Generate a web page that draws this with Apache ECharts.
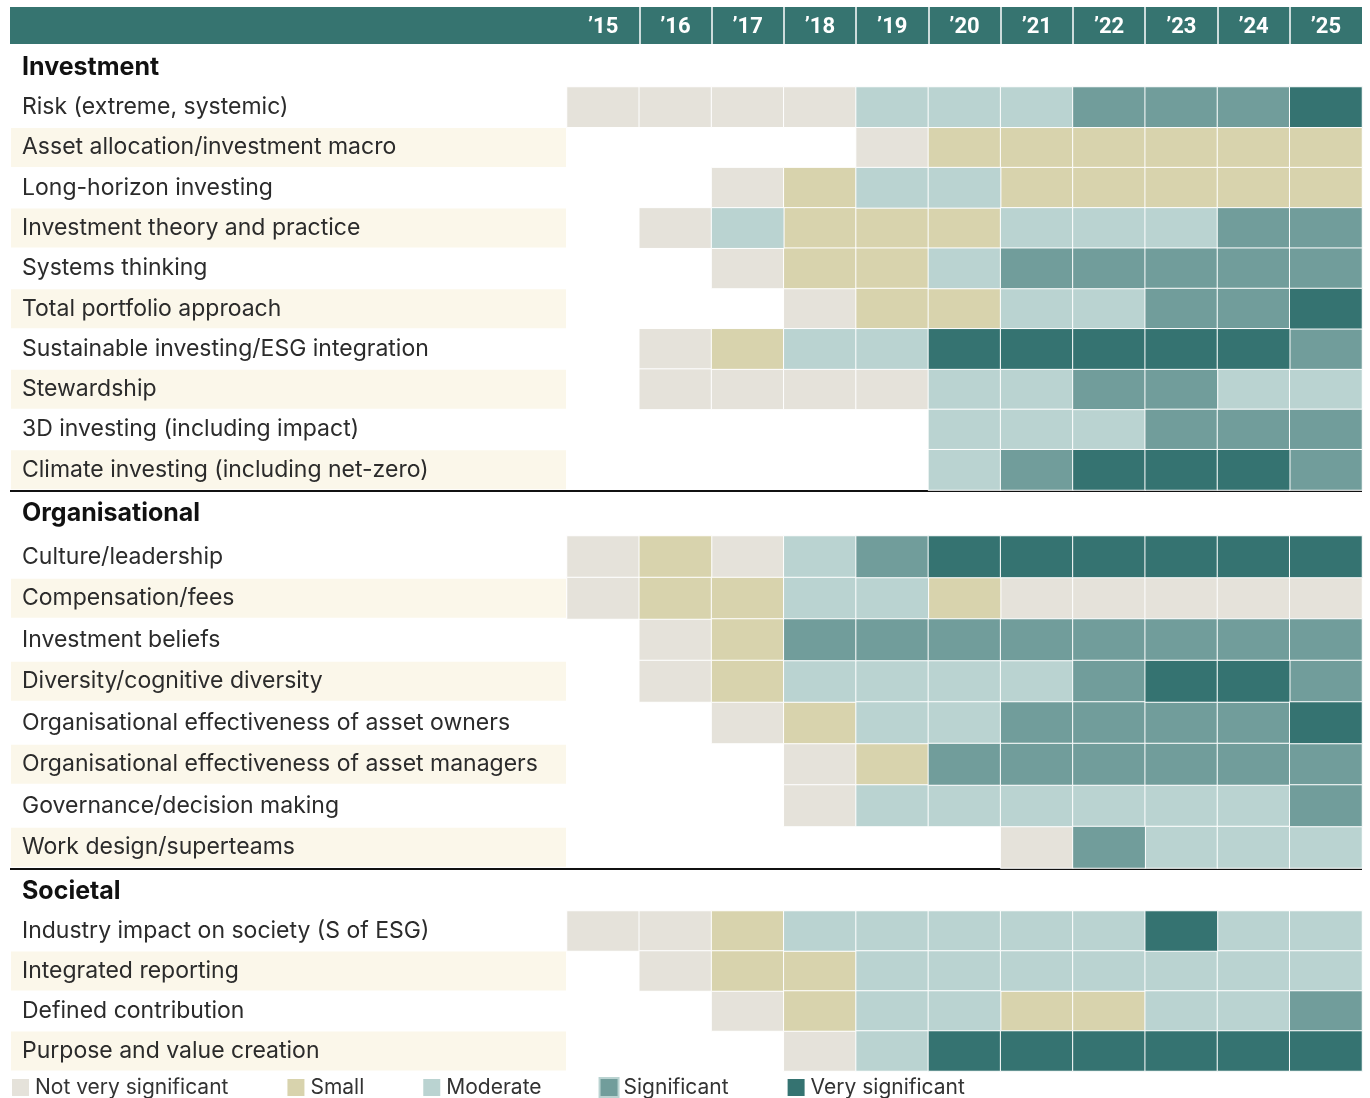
<!DOCTYPE html>
<html>
<head>
<meta charset="utf-8">
<script src="https://cdn.jsdelivr.net/npm/echarts@6/dist/echarts.min.js"></script>
<style>
html, body { margin: 0; padding: 0; background: #fff; }
#main { width: 1370px; height: 1098px; }
</style>
</head>
<body>
<div id="main"></div>
<script>
var myChart = echarts.init(document.getElementById('main'));

var years = ['\u201915', '\u201916', '\u201917', '\u201918', '\u201919', '\u201920',
             '\u201921', '\u201922', '\u201923', '\u201924', '\u201925'];

// 0 = not rated, 1..5 = index into levels
var levels = ['Not very significant', 'Small', 'Moderate', 'Significant', 'Very significant'];
var levelColors = ['#e5e2da', '#d8d3ad', '#bad3d1', '#719d9b', '#357371'];

var sections = ['Investment', 'Organisational', 'Societal'];

var investmentRows = [
    'Risk (extreme, systemic)',
    'Asset allocation/investment macro',
    'Long-horizon investing',
    'Investment theory and practice',
    'Systems thinking',
    'Total portfolio approach',
    'Sustainable investing/ESG integration',
    'Stewardship',
    '3D investing (including impact)',
    'Climate investing (including net-zero)'
];
var investmentValues = [
    [1, 1, 1, 1, 3, 3, 3, 4, 4, 4, 5],
    [0, 0, 0, 0, 1, 2, 2, 2, 2, 2, 2],
    [0, 0, 1, 2, 3, 3, 2, 2, 2, 2, 2],
    [0, 1, 3, 2, 2, 2, 3, 3, 3, 4, 4],
    [0, 0, 1, 2, 2, 3, 4, 4, 4, 4, 4],
    [0, 0, 0, 1, 2, 2, 3, 3, 4, 4, 5],
    [0, 1, 2, 3, 3, 5, 5, 5, 5, 5, 4],
    [0, 1, 1, 1, 1, 3, 3, 4, 4, 3, 3],
    [0, 0, 0, 0, 0, 3, 3, 3, 4, 4, 4],
    [0, 0, 0, 0, 0, 3, 4, 5, 5, 5, 4]
];

var organisationalRows = [
    'Culture/leadership',
    'Compensation/fees',
    'Investment beliefs',
    'Diversity/cognitive diversity',
    'Organisational effectiveness of asset owners',
    'Organisational effectiveness of asset managers',
    'Governance/decision making',
    'Work design/superteams'
];
var organisationalValues = [
    [1, 2, 1, 3, 4, 5, 5, 5, 5, 5, 5],
    [1, 2, 2, 3, 3, 2, 1, 1, 1, 1, 1],
    [0, 1, 2, 4, 4, 4, 4, 4, 4, 4, 4],
    [0, 1, 2, 3, 3, 3, 3, 4, 5, 5, 4],
    [0, 0, 1, 2, 3, 3, 4, 4, 4, 4, 5],
    [0, 0, 0, 1, 2, 4, 4, 4, 4, 4, 4],
    [0, 0, 0, 1, 3, 3, 3, 3, 3, 3, 4],
    [0, 0, 0, 0, 0, 0, 1, 4, 3, 3, 3]
];

var societalRows = [
    'Industry impact on society (S of ESG)',
    'Integrated reporting',
    'Defined contribution',
    'Purpose and value creation'
];
var societalValues = [
    [1, 1, 2, 3, 3, 3, 3, 3, 5, 3, 3],
    [0, 1, 2, 2, 3, 3, 3, 3, 3, 3, 3],
    [0, 0, 1, 2, 3, 3, 2, 2, 3, 3, 4],
    [0, 0, 0, 1, 3, 5, 5, 5, 5, 5, 5]
];

var FONT = 'Inter, sans-serif';
var HEADER = '#367470';
var CREAM = '#fbf7ea';

var labelStyle = {fontSize: 23, color: '#2b2b2b', fontFamily: FONT, width: 544, height: 39, lineHeight: 39, padding: [0, 0, 0, 11]};

function rowAxis(gridIdx, rows) {
    return {
        type: 'category',
        gridIndex: gridIdx,
        data: rows,
        inverse: true,
        axisLine: {show: false},
        axisTick: {show: false},
        splitLine: {show: false},
        axisLabel: {
            interval: 0,
            align: 'left',
            margin: 556,
            formatter: function (v, i) {
                return (i % 2 ? '{band|' : '{plain|') + v + '}';
            },
            rich: {
                plain: labelStyle,
                band: Object.assign({}, labelStyle, {backgroundColor: CREAM})
            }
        }
    };
}

function yearAxis(gridIdx) {
    return {type: 'category', gridIndex: gridIdx, data: years, show: false};
}

// one heatmap series per level so the legend can list them
function buildSeries(values, gridIdx) {
    var out = [];
    levels.forEach(function (lvl, li) {
        var d = [];
        values.forEach(function (rowVals, ri) {
            rowVals.forEach(function (v, ci) {
                if (v === li + 1) d.push([ci, ri, v]);
            });
        });
        out.push({
            name: lvl,
            type: 'heatmap',
            xAxisIndex: gridIdx,
            yAxisIndex: gridIdx,
            data: d,
            itemStyle: {color: levelColors[li], borderColor: '#fff', borderWidth: 1},
            emphasis: {disabled: true},
            silent: true
        });
    });
    return out;
}

function sectionTitle(text, top) {
    return {type: 'text', left: 22, top: top, style: {text: text, fontSize: 25, fontWeight: 'bold', fill: '#111', fontFamily: FONT}};
}

option = {
    animation: false,
    backgroundColor: '#fff',
    grid: [
        {left: 567, right: 8, top: 7, height: 37},
        {left: 567, right: 8, top: 87, height: 403},
        {left: 567, right: 8, top: 536, height: 332},
        {left: 567, right: 8, top: 911, height: 160}
    ],
    xAxis: [
        {
            type: 'category',
            gridIndex: 0,
            data: years,
            axisLine: {show: false},
            axisTick: {show: false},
            axisLabel: {
                inside: true,
                margin: 17,
                verticalAlign: 'middle',
                color: '#fff',
                fontSize: 22,
                fontWeight: 'bold',
                fontFamily: 'Roboto, sans-serif'
            },
            splitLine: {show: true, showMinLine: false, showMaxLine: false, lineStyle: {color: '#fff', width: 1.5}},
            z: 5
        },
        yearAxis(1), yearAxis(2), yearAxis(3)
    ],
    yAxis: [
        {type: 'category', gridIndex: 0, data: [''], show: false},
        rowAxis(1, investmentRows),
        rowAxis(2, organisationalRows),
        rowAxis(3, societalRows)
    ],
    legend: {
        left: 10,
        top: 1077,
        padding: 0,
        icon: 'rect',
        itemWidth: 19,
        itemHeight: 19,
        itemGap: 57,
        selectedMode: false,
        textStyle: {fontSize: 21, color: '#333', fontFamily: FONT},
        data: levels.map(function (l, i) {
            return i === 3 ? {name: l, itemStyle: {borderColor: '#bad3d1', borderWidth: 2}} : {name: l};
        })
    },
    graphic: [
        {type: 'rect', z: -1, shape: {x: 10, y: 7, width: 1352, height: 37}, style: {fill: HEADER}},
        sectionTitle(sections[0], 55),
        sectionTitle(sections[1], 501),
        sectionTitle(sections[2], 879),
        {type: 'line', shape: {x1: 10, y1: 491, x2: 1362, y2: 491}, style: {stroke: '#111', lineWidth: 2}},
        {type: 'line', shape: {x1: 10, y1: 869, x2: 1362, y2: 869}, style: {stroke: '#111', lineWidth: 2}}
    ],
    series: [].concat(
        buildSeries(investmentValues, 1),
        buildSeries(organisationalValues, 2),
        buildSeries(societalValues, 3)
    )
};

myChart.setOption(option);
</script>
</body>
</html>
